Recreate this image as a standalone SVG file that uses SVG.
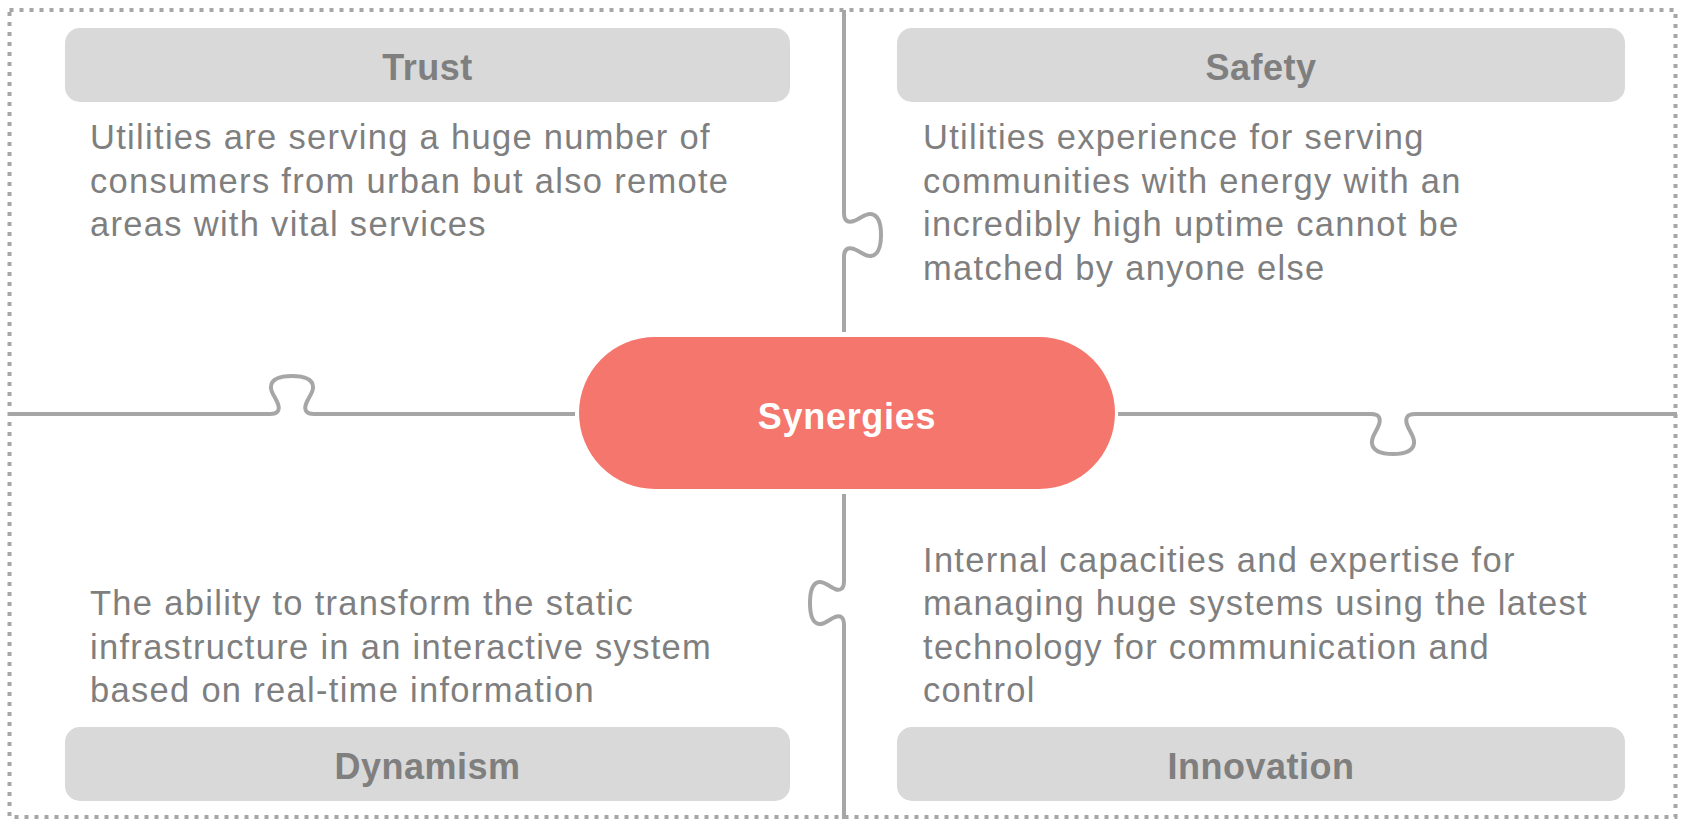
<svg xmlns="http://www.w3.org/2000/svg" width="1681" height="819" viewBox="0 0 1681 819">
  <style>
    .frame { fill: none; stroke: #a6a6a6; stroke-width: 4; stroke-dasharray: 4 6; }
    .seam { fill: none; stroke: #a6a6a6; stroke-width: 4; stroke-linecap: butt; stroke-linejoin: round; }
    .tab { fill: #d9d9d9; }
    .title { font-family: "Liberation Sans", Arial, sans-serif; font-weight: bold; font-size: 36px; letter-spacing: 0.5px; fill: #7f7f7f; text-anchor: middle; }
    .body { font-family: "Liberation Sans", Arial, sans-serif; font-size: 34.5px; letter-spacing: 1.3px; fill: #7f7f7f; }
    .hub { fill: #f4766c; }
    .hub-label { font-family: "Liberation Sans", Arial, sans-serif; font-weight: bold; font-size: 36px; letter-spacing: 0.7px; fill: #ffffff; text-anchor: middle; }
  </style>

  <rect width="1681" height="819" fill="#ffffff"/>

  <!-- dotted outer frame -->
  <rect class="frame" x="9.5" y="10" width="1666" height="807"/>

  <!-- puzzle seams between the four quadrants -->
  <g id="connectors">
    <path class="seam" d="M 9 414 L 270 414 C 278 414 280 410 278 404 C 275 396 270 392 271 386 C 272 379 279 376 292 376 C 305 376 312 379 313 386 C 314 392 309 396 306 404 C 304 410 306 414 314 414 L 575 414"/>
    <path class="seam" d="M 1118 414 L 1371 414 C 1379 414 1381 418 1379 424.5 C 1376 433 1371 437 1372 443.5 C 1373 451 1380 454 1393 454 C 1406 454 1413 451 1414 443.5 C 1415 437 1410 433 1407 424.5 C 1405 418 1407 414 1415 414 L 1677 414"/>
    <path class="seam" d="M 844 10 L 844 213 C 844 221 848 223 854 221 C 861.5 218 865.5 213 871 214 C 878 215 881 222 881 235 C 881 248 878 255 871 256 C 865.5 257 861.5 252 854 249 C 848 247 844 249 844 257 L 844 332"/>
    <path class="seam" d="M 844 494 L 844 581 C 844 589 840.4 591 835 589 C 828 586 824.3 581 819 582 C 813 583 810 590 810 603 C 810 616 813 623 819 624 C 824.3 625 828 620 835 617 C 840.4 615 844 617 844 625 L 844 819"/>
  </g>

  <g id="trust">
    <rect class="tab" x="65" y="28" width="725" height="74" rx="15"/>
    <text class="title" x="427.5" y="80">Trust</text>
    <text class="body"><tspan x="90" y="149">Utilities are serving a huge number of</tspan><tspan x="90" y="192.5">consumers from urban but also remote</tspan><tspan x="90" y="236">areas with vital services</tspan></text>
  </g>

  <g id="safety">
    <rect class="tab" x="897" y="28" width="728" height="74" rx="15"/>
    <text class="title" x="1261" y="80">Safety</text>
    <text class="body"><tspan x="923" y="149">Utilities experience for serving</tspan><tspan x="923" y="192.5">communities with energy with an</tspan><tspan x="923" y="236">incredibly high uptime cannot be</tspan><tspan x="923" y="279.5">matched by anyone else</tspan></text>
  </g>

  <g id="dynamism">
    <rect class="tab" x="65" y="727" width="725" height="74" rx="15"/>
    <text class="title" x="427.5" y="779">Dynamism</text>
    <text class="body"><tspan x="90" y="615">The ability to transform the static</tspan><tspan x="90" y="658.5">infrastructure in an interactive system</tspan><tspan x="90" y="702">based on real-time information</tspan></text>
  </g>

  <g id="innovation">
    <rect class="tab" x="897" y="727" width="728" height="74" rx="15"/>
    <text class="title" x="1261" y="779">Innovation</text>
    <text class="body"><tspan x="923" y="571.5">Internal capacities and expertise for</tspan><tspan x="923" y="615">managing huge systems using the latest</tspan><tspan x="923" y="658.5">technology for communication and</tspan><tspan x="923" y="702">control</tspan></text>
  </g>

  <g id="synergies">
    <rect class="hub" x="579" y="337" width="536" height="152" rx="76"/>
    <text class="hub-label" x="847" y="429">Synergies</text>
  </g>
</svg>
